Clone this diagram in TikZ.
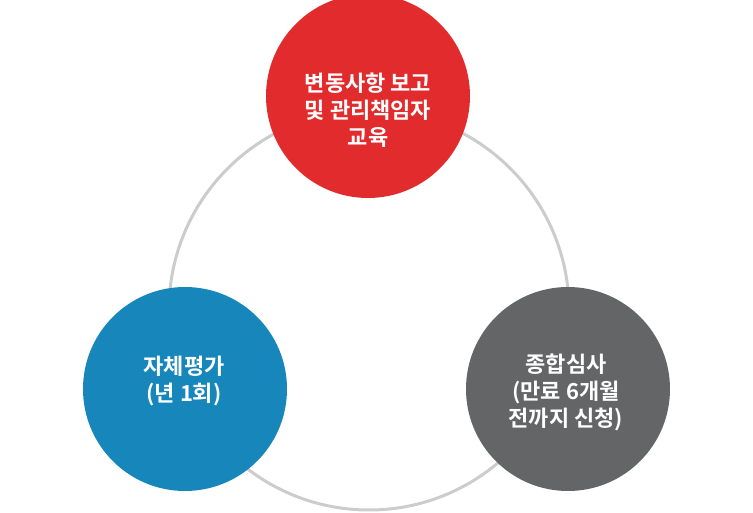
\documentclass[tikz,border=0pt]{standalone}
\usepackage{fontspec}
\newfontfamily\kr{Noto Sans CJK KR}[BoldFont={Noto Sans CJK KR Bold}]
\definecolor{ringgray}{HTML}{CCCCCC}
\definecolor{cred}{HTML}{E12B2C}
\definecolor{cblue}{HTML}{1787BB}
\definecolor{cgray}{HTML}{646567}
\begin{document}
\begin{tikzpicture}[x=1pt,y=-1pt,
  ringstyle/.style={circle,draw=ringgray,line width=3pt,minimum size=400pt,inner sep=0pt},
  disc/.style={circle,fill=#1,draw=none,minimum size=204pt,inner sep=0pt},
  label text/.style={text=white,align=center,font=\kr\bfseries\fontsize{22}{27}\selectfont}]
\useasboundingbox (0,0) rectangle (753,513);
\node[ringstyle] (ring) at (369,310) {};
\node[disc=cred] (top) at (368,96) {};
\node[disc=cblue] (left) at (185,389) {};
\node[disc=cgray] (right) at (568,389) {};
\node[label text] (toptext) at (368,110) {변동사항 보고\\및 관리책임자\\교육};
\node[label text] (lefttext) at (184,381) {자체평가\\(년 1회)};
\node[label text] (righttext) at (566,392) {종합심사\\(만료 6개월\\전까지 신청)};
\end{tikzpicture}
\end{document}
